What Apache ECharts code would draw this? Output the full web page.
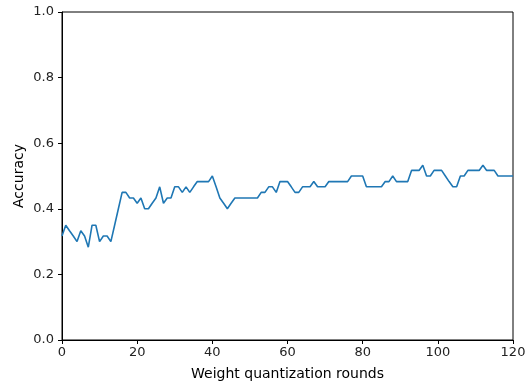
<!DOCTYPE html>
<html>
<head>
<meta charset="utf-8">
<script src="https://cdn.jsdelivr.net/npm/echarts@6/dist/echarts.min.js"></script>
<style>
  html, body { margin: 0; padding: 0; background: #fff; }
  #chart { width: 531px; height: 386px; }
</style>
</head>
<body>
<div id="chart"></div>
<script>
// accuracy per round
const rounds = [];
for (let i = 0; i <= 120; i++) rounds.push(i);
const accuracy = [
  0.317, 0.35, 0.333, 0.317, 0.30, 0.333, 0.317, 0.283, 0.35, 0.35,
  0.30, 0.317, 0.317, 0.30, 0.35, 0.40, 0.45, 0.45, 0.433, 0.433,
  0.417, 0.433, 0.40, 0.40, 0.417, 0.433, 0.467, 0.417, 0.433, 0.433,
  0.467, 0.467, 0.45, 0.467, 0.45, 0.467, 0.483, 0.483, 0.483, 0.483,
  0.50, 0.467, 0.433, 0.417, 0.40, 0.417, 0.433, 0.433, 0.433, 0.433,
  0.433, 0.433, 0.433, 0.45, 0.45, 0.467, 0.467, 0.45, 0.483, 0.483,
  0.483, 0.467, 0.45, 0.45, 0.467, 0.467, 0.467, 0.483, 0.467, 0.467,
  0.467, 0.483, 0.483, 0.483, 0.483, 0.483, 0.483, 0.50, 0.50, 0.50,
  0.50, 0.467, 0.467, 0.467, 0.467, 0.467, 0.483, 0.483, 0.50, 0.483,
  0.483, 0.483, 0.483, 0.517, 0.517, 0.517, 0.533, 0.50, 0.50, 0.517,
  0.517, 0.517, 0.50, 0.483, 0.467, 0.467, 0.50, 0.50, 0.517, 0.517,
  0.517, 0.517, 0.533, 0.517, 0.517, 0.517, 0.50, 0.50, 0.50, 0.50,
  0.50
];
const xTicks = [0, 20, 40, 60, 80, 100, 120];
const yTicks = [0.0, 0.2, 0.4, 0.6, 0.8, 1.0];

const chart = echarts.init(document.getElementById('chart'));
const font = 'DejaVu Sans';
const option = {
  animation: false,
  grid: {
    left: 62, right: 18, top: 12, bottom: 43,
    show: true, borderColor: '#000', borderWidth: 1
  },
  xAxis: {
    type: 'value',
    min: xTicks[0], max: xTicks[xTicks.length - 1], interval: 20,
    name: 'Weight quantization rounds',
    nameLocation: 'middle', nameGap: 27, nameMoveOverlap: false,
    nameTextStyle: { color: '#000', fontSize: 14, fontFamily: font },
    axisLine: { show: true, lineStyle: { color: '#000', width: 1 } },
    axisTick: { show: true, length: 4, lineStyle: { color: '#000' } },
    axisLabel: { color: '#222', fontSize: 13, fontFamily: font, margin: 6 },
    splitLine: { show: false }
  },
  yAxis: {
    type: 'value',
    min: yTicks[0], max: yTicks[yTicks.length - 1], interval: 0.2,
    name: 'Accuracy',
    nameLocation: 'middle', nameGap: 36, nameMoveOverlap: false,
    nameTextStyle: { color: '#000', fontSize: 14, fontFamily: font },
    axisLine: { show: true, lineStyle: { color: '#000', width: 1 } },
    axisTick: { show: true, length: 4, lineStyle: { color: '#000' } },
    axisLabel: {
      color: '#222', fontSize: 13, fontFamily: font, margin: 8,
      formatter: v => v.toFixed(1)
    },
    splitLine: { show: false }
  },
  series: [{
    type: 'line',
    data: rounds.map((r, i) => [r, accuracy[i]]),
    showSymbol: false,
    lineStyle: { color: '#1f77b4', width: 1.6 },
    itemStyle: { color: '#1f77b4' }
  }]
};
chart.setOption(option);
</script>
</body>
</html>
